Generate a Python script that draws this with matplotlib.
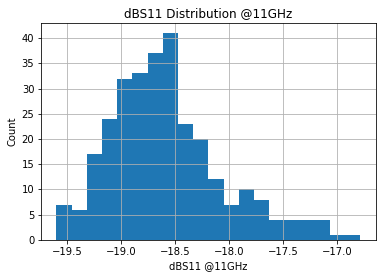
import numpy as np
import matplotlib
matplotlib.use("Agg")
import matplotlib.pyplot as plt

# counts per bin
counts = [7, 6, 17, 24, 32, 33, 37, 41, 23, 20, 12, 7, 10, 8, 4, 4, 4, 4, 1, 1]
x_min, x_max = -19.601, -16.788   # data range of dBS11 @11GHz

edges = np.linspace(x_min, x_max, len(counts) + 1)
centers = (edges[:-1] + edges[1:]) / 2

fig = plt.figure(figsize=(386 / 72, 278 / 72), dpi=72)
ax = fig.add_axes([0.107, 0.137, 0.866, 0.781])

ax.hist(centers, bins=edges, weights=counts, color='#1f77b4')
ax.grid(True)

ax.set_title("dBS11 Distribution @11GHz")
ax.set_xlabel("dBS11 @11GHz")
ax.set_ylabel("Count")

fig.savefig("out.png", dpi=72)
